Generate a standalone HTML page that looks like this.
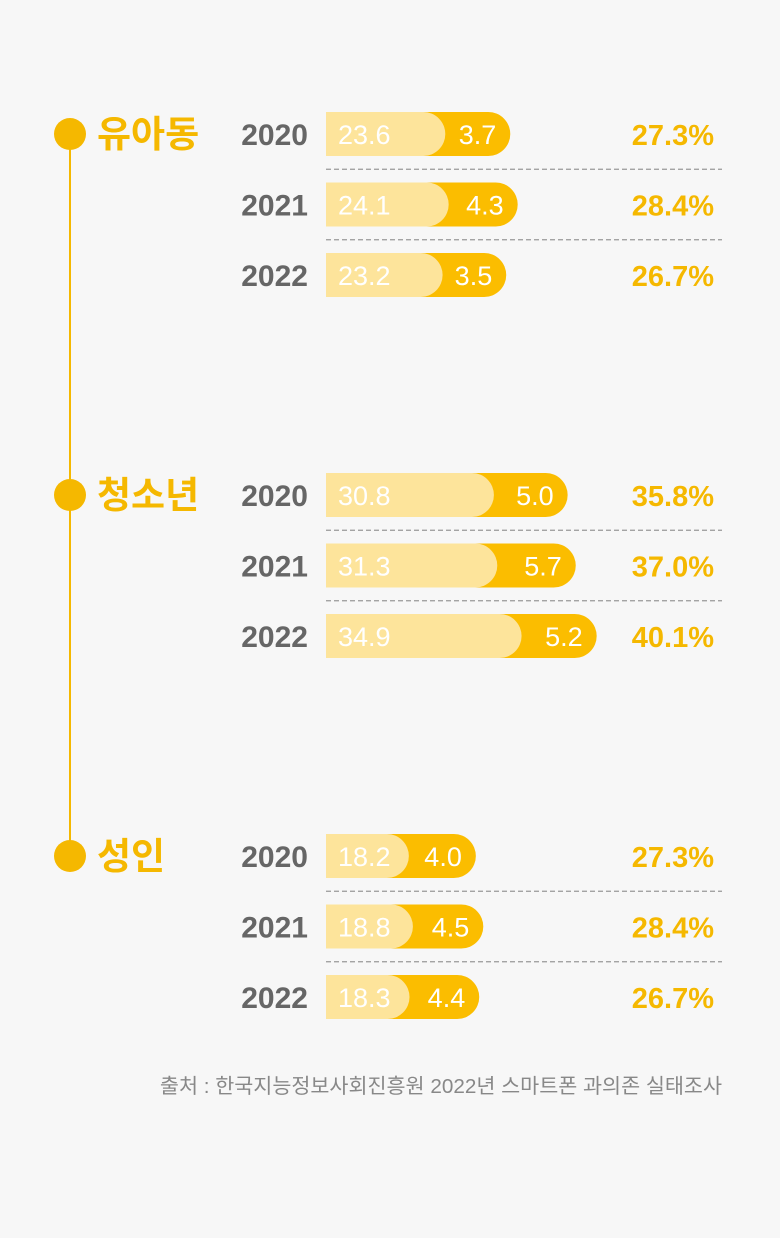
<!DOCTYPE html>
<html><head><meta charset="utf-8">
<style>
html,body{margin:0;padding:0;background:#f7f7f7;}
svg{display:block;}
text{font-family:"Liberation Sans","Noto Sans CJK KR",sans-serif;}
</style></head>
<body>
<svg id="chart" width="780" height="1238" viewBox="0 0 780 1238" xmlns="http://www.w3.org/2000/svg">
<rect width="780" height="1238" fill="#f7f7f7"/>
<line x1="70" y1="134" x2="70" y2="856" stroke="#f5b800" stroke-width="2"/>
<g id="groups"></g>
<text x="722" y="1093" text-anchor="end" font-size="20.7" fill="#888">출처 : 한국지능정보사회진흥원 2022년 스마트폰 과의존 실태조사</text>
</svg>
<script>
const groupNames = ["유아동", "청소년", "성인"];
const years = ["2020", "2021", "2022"];
const lightValues = [[23.6, 24.1, 23.2], [30.8, 31.3, 34.9], [18.2, 18.8, 18.3]];
const darkValues = [[3.7, 4.3, 3.5], [5.0, 5.7, 5.2], [4.0, 4.5, 4.4]];
const pctLabels = [["27.3%", "28.4%", "26.7%"], ["35.8%", "37.0%", "40.1%"], ["27.3%", "28.4%", "26.7%"]];

const NS = "http://www.w3.org/2000/svg";
const root = document.getElementById("groups");
const x0 = 326, scale = 6.75, barH = 44, r = 22;
const groupTop = [134, 495, 856], rowGap = 70.5;
function xw(v){ return v * scale; }
function mk(tag, attrs, parent){
  const e = document.createElementNS(NS, tag);
  for (const k in attrs) e.setAttribute(k, attrs[k]);
  parent.appendChild(e);
  return e;
}
function pill(x, y, w, h, rad){
  return `M${x},${y} H${x+w-rad} A${rad},${rad} 0 0 1 ${x+w-rad},${y+h} H${x} Z`;
}
groupNames.forEach((g, gi) => {
  const gy = groupTop[gi];
  const grp = mk("g", {}, root);
  
  
  const dot = mk("circle", {cx: 70, cy: gy, r: 16, fill: "#f5b800"}, grp);
  
  
  const t = mk("text", {x: 97, y: gy + 13, "font-size": 37, "font-weight": "bold", fill: "#f5b800"}, grp);
  t.textContent = g;
  
  
  years.forEach((yr, yi) => {
    const cy = gy + yi * rowGap;
    const top = cy - barH / 2;
    const lv = lightValues[gi][yi], dv = darkValues[gi][yi];
    const totalW = xw(lv + dv);
    const lightW = Math.max(xw(lv) - 40, 2 * r);
    if (yi > 0) {
      const dl = mk("line", {x1: x0, x2: 722, y1: cy - rowGap / 2, y2: cy - rowGap / 2, stroke: "#999", "stroke-width": 1.3, "stroke-dasharray": "5 3"}, grp);
      
      
    }
    const yl = mk("text", {x: 308, y: cy + 11, "text-anchor": "end", "font-size": 30, "font-weight": "bold", fill: "#666"}, grp);
    yl.textContent = yr;
    
    
    const db = mk("path", {d: pill(x0, top, totalW, barH, r), fill: "#fbbd00"}, grp);
    
    
    const lb = mk("path", {d: pill(x0, top, lightW, barH, r), fill: "#fde49b"}, grp);
    
    
    const lt = mk("text", {x: x0 + 12, y: cy + 10, "font-size": 27, fill: "#fff"}, grp);
    lt.textContent = lv.toFixed(1);
    
    
    const dt = mk("text", {x: x0 + totalW - 14, y: cy + 10, "text-anchor": "end", "font-size": 27, fill: "#fff"}, grp);
    dt.textContent = dv.toFixed(1);
    
    
    const pt = mk("text", {x: 714, y: cy + 11, "text-anchor": "end", "font-size": 29, "font-weight": "bold", fill: "#f5b800"}, grp);
    pt.textContent = pctLabels[gi][yi];
    
    
  });
});
</script>
</body></html>
